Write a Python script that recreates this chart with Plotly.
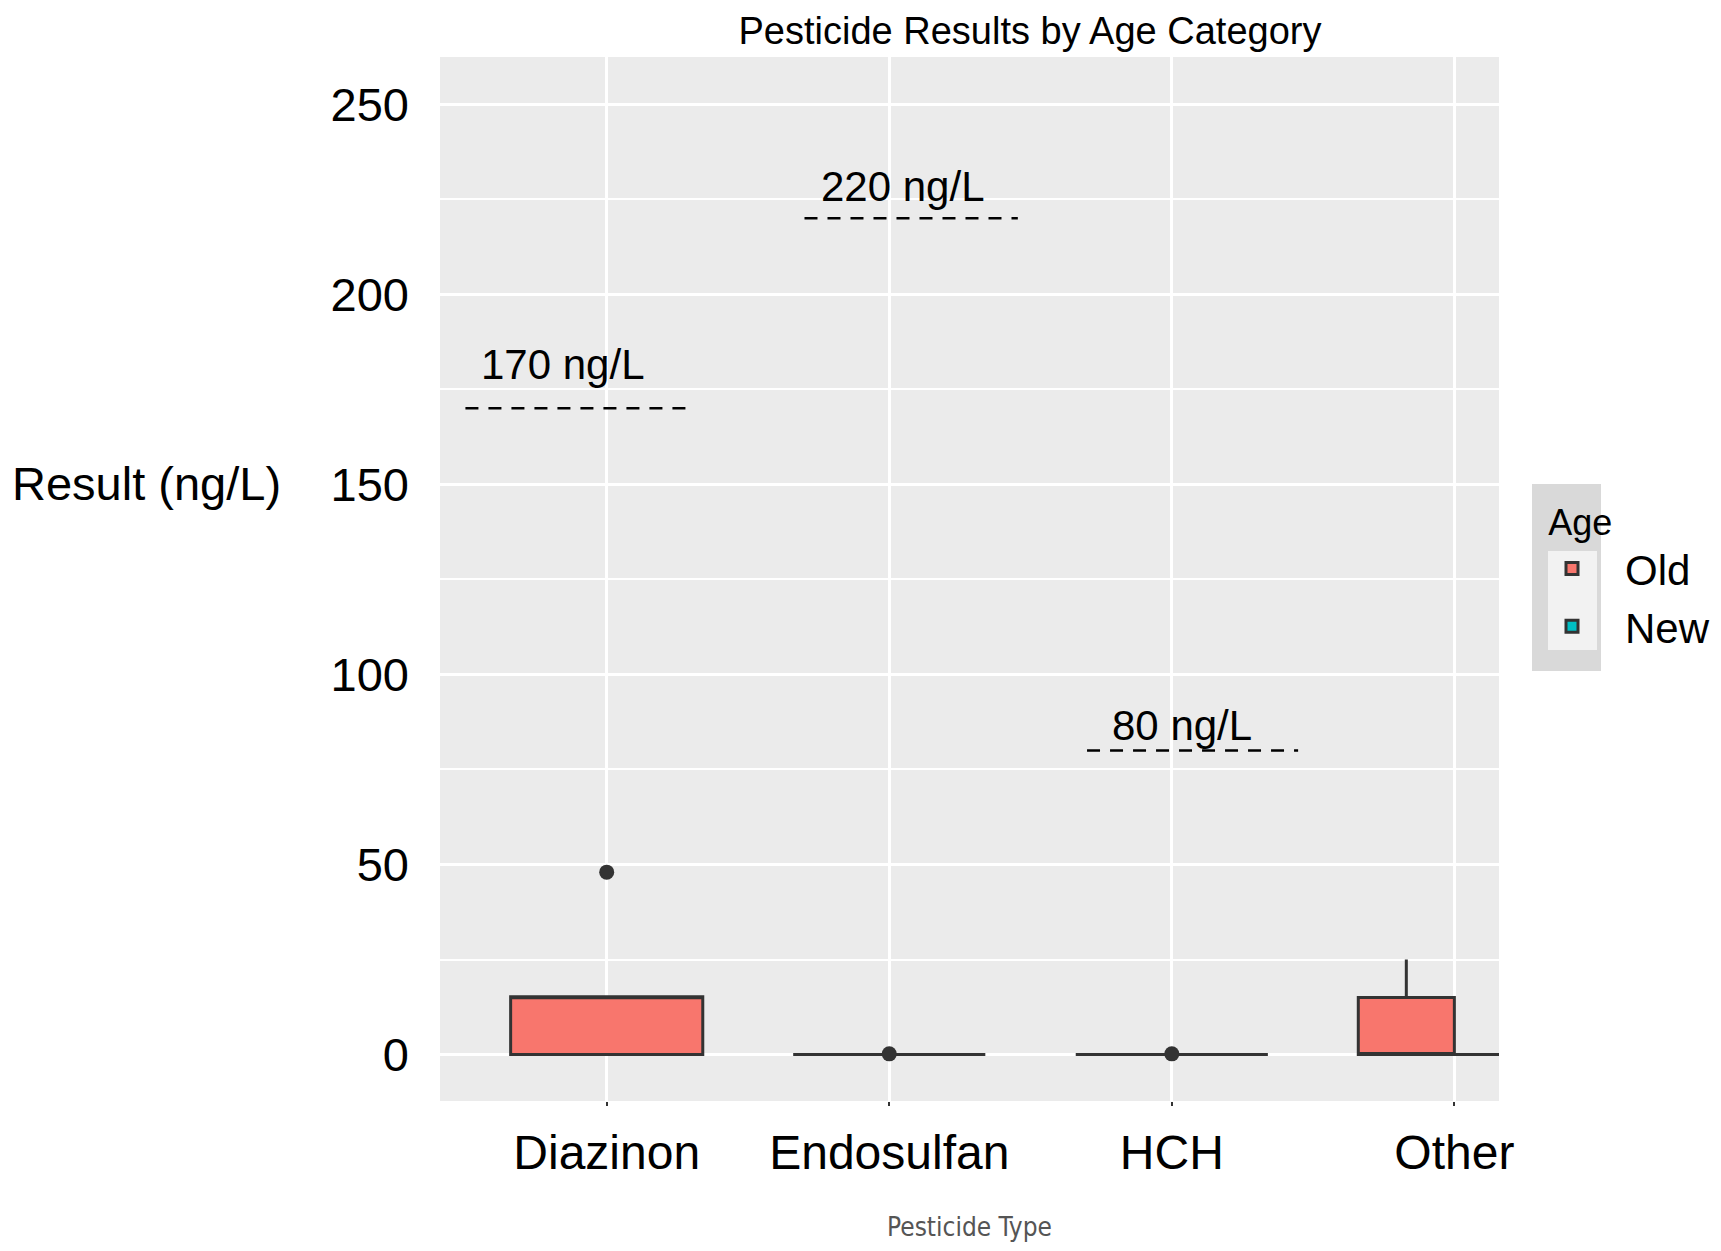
import plotly.graph_objects as go

# ---------------- data ----------------
categories = ["Diazinon", "Endosulfan", "HCH", "Other"]

# Old samples (ng/L)
diazinon_old = [0, 0, 0, 0, 15.2, 15.2, 15.2, 15.2, 15.2, 15.2, 48]
endosulfan_old = [0, 0, 0, 0, 0, 0, 0.2]
hch_old = [0, 0, 0, 0, 0, 0, 0.2]
other_old = [0, 0, 0, 0, 0, 0, 15, 15, 15, 15, 25]
# New samples
other_new = [0, 0, 0, 0]

y_tick_values = [0, 50, 100, 150, 200, 250]

threshold_categories = ["Diazinon", "Endosulfan", "HCH"]
threshold_values = [170, 220, 80]
threshold_labels = ["170 ng/L", "220 ng/L", "80 ng/L"]

# ---------------- styling ----------------
OLD_FILL = "#F8766D"
NEW_FILL = "#00BFC4"
LINE = "#333333"
PANEL = "#EBEBEB"
FONT = "Liberation Sans, Arial, sans-serif"

W, H = 1721, 1251
OFF = 8  # page body margin
L, R, T, B = 440 - OFF, 1499 - OFF, 57 - OFF, 1101 - OFF

line_spans = [(-0.50, 0.29), (-0.30, 0.455), (-0.30, 0.447)]
label_dx = [-0.156, 0.05, 0.035]
label_yshift = [44, 32, 25]

fig = go.Figure()

main_x = (["Diazinon"] * len(diazinon_old) + ["Endosulfan"] * len(endosulfan_old)
          + ["HCH"] * len(hch_old))
main_y = diazinon_old + endosulfan_old + hch_old

box_common = dict(
    boxpoints="outliers", pointpos=0, jitter=0,
    line=dict(color=LINE, width=3),
    marker=dict(color=LINE, size=15, line=dict(width=0)),
    whiskerwidth=0,
)

fig.add_trace(go.Box(
    x=main_x, y=main_y, name="Old", legendgroup="old", showlegend=True,
    fillcolor=OLD_FILL, alignmentgroup="single", offsetgroup="single", **box_common))
fig.add_trace(go.Box(
    x=["Other"] * len(other_old), y=other_old, name="Old", legendgroup="old",
    showlegend=False, fillcolor=OLD_FILL, alignmentgroup="dodge", offsetgroup="old",
    **box_common))
fig.add_trace(go.Box(
    x=["Other"] * len(other_new), y=other_new, name="New", legendgroup="new",
    showlegend=True, fillcolor=NEW_FILL, alignmentgroup="dodge", offsetgroup="new",
    **box_common))

shapes = []
annotations = []
for cat, val, lab, span, dx, ys in zip(threshold_categories, threshold_values,
                                        threshold_labels, line_spans, label_dx,
                                        label_yshift):
    idx = categories.index(cat)
    shapes.append(dict(type="line", xref="x", yref="y", x0=idx + span[0],
                       x1=idx + span[1], y0=val, y1=val,
                       line=dict(color="black", width=2.5, dash="13px,10px")))
    annotations.append(dict(xref="x", yref="y", x=idx + dx, y=val, text=lab,
                            showarrow=False, yanchor="middle", yshift=ys,
                            font=dict(family=FONT, size=42, color="black")))

# legend background panels (page pixel positions -> paper fractions)
pw, ph = R - L, B - T
def px_x(v):
    return (v - OFF - L) / pw
def px_y(v):
    return (B - (v - OFF)) / ph
shapes.append(dict(type="rect", xref="paper", yref="paper",
                   x0=px_x(1532), x1=px_x(1601), y0=px_y(671), y1=px_y(484),
                   fillcolor="#D9D9D9", line=dict(width=0), layer="below"))
shapes.append(dict(type="rect", xref="paper", yref="paper",
                   x0=px_x(1548), x1=px_x(1597), y0=px_y(650), y1=px_y(551),
                   fillcolor="#F2F2F2", line=dict(width=0), layer="below"))

# y axis title (horizontal)
annotations.append(dict(xref="paper", yref="paper", x=px_x(10), y=px_y(483),
                        text="Result (ng/L)", showarrow=False,
                        xanchor="left", yanchor="middle",
                        font=dict(family=FONT, size=47, color="black")))

fig.update_layout(
    width=W, height=H,
    autosize=False,
    margin=dict(l=L, r=W - R, t=T, b=H - B, autoexpand=False),
    paper_bgcolor="white",
    plot_bgcolor=PANEL,
    boxmode="group", boxgap=0.32, boxgroupgap=0,
    title=dict(text="Pesticide Results by Age Category", x=(1030 - OFF) / W,
               xanchor="center", xref="container", y=1, yanchor="top",
               yref="container", pad=dict(t=9, b=0, l=0, r=0),
               font=dict(family=FONT, size=38, color="black")),
    xaxis=dict(
        type="category", categoryorder="array", categoryarray=categories,
        range=[-0.59, 3.158], showgrid=True, gridcolor="white", gridwidth=3,
        zeroline=False, showline=False,
        ticks="outside", ticklen=4, tickwidth=2, tickcolor=LINE,
        tickfont=dict(family=FONT, size=48, color="black"),
        ticklabelstandoff=5,
        title=dict(text="Pesticide Type", standoff=40,
                   font=dict(family="Liberation Sans Narrow, DejaVu Sans Condensed, Liberation Sans, sans-serif",
                             size=26, color="#555555")),
        automargin=False,
    ),
    yaxis=dict(
        range=[-12.2, 262.4], tickvals=y_tick_values,
        showgrid=True, gridcolor="white", gridwidth=3,
        minor=dict(dtick=25, tick0=0, showgrid=True, gridcolor="white", gridwidth=2),
        zeroline=False, showline=False, ticks="",
        tickfont=dict(family=FONT, size=47, color="black"),
        ticklabelstandoff=30,
        automargin=False,
    ),
    legend=dict(
        xref="container", yref="container", x=(1519 - OFF) / W, xanchor="left",
        y=1 - (488 - OFF) / H, yanchor="top",
        bgcolor="rgba(0,0,0,0)", itemwidth=96,
        title=dict(text="\u00a0\u00a0\u2009Age",
                   font=dict(family=FONT, size=36, color="black")),
        font=dict(family=FONT, size=42, color="black"),
        tracegroupgap=0,
    ),
    shapes=shapes,
    annotations=annotations,
)

fig.write_html("out.html")
